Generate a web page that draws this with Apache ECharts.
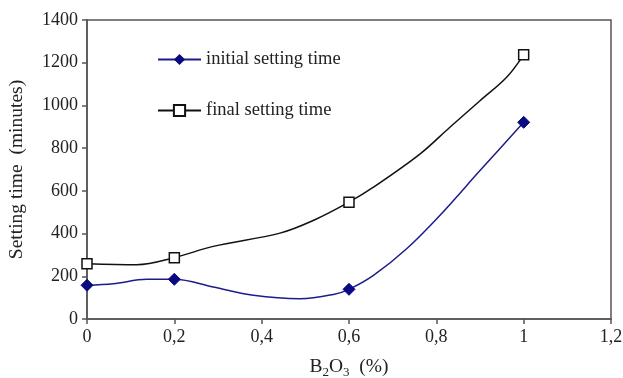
<!DOCTYPE html>
<html>
<head>
<meta charset="utf-8">
<script src="https://cdn.jsdelivr.net/npm/echarts@6/dist/echarts.min.js"></script>
<style>
  html, body { margin: 0; padding: 0; background: #fff; }
  #chart { width: 623px; height: 378px; }
</style>
</head>
<body>
<div id="chart"></div>
<script>
// Measured points (B2O3 %, minutes)
const doseMeasured = [0, 0.2, 0.6, 1];
const initialMeasured = [158, 186, 139, 921];
const finalMeasured = [259, 287, 547, 1237];

// Traced points along the drawn curves between measurements
const initialCurveX = [0, 0.06, 0.137, 0.2, 0.289, 0.381, 0.488, 0.564, 0.6, 0.656, 0.732, 0.808, 0.9, 1];
const initialCurveY = [158, 165, 186, 186, 150, 111, 95, 115, 139, 204, 329, 485, 695, 921];
const finalCurveX = [0, 0.114, 0.2, 0.289, 0.442, 0.518, 0.6, 0.656, 0.763, 0.831, 0.9, 0.961, 1];
const finalCurveY = [259, 254, 287, 340, 402, 461, 547, 617, 773, 898, 1022, 1132, 1237];

const xTicks = { min: 0, max: 1.2, step: 0.2 };
const yTicks = { min: 0, max: 1400, step: 200 };

function buildData(cx, cy) {
  return cx.map((x, i) => {
    const isMeasured = doseMeasured.some(d => Math.abs(d - x) < 1e-9);
    return isMeasured ? { value: [x, cy[i]] } : { value: [x, cy[i]], symbol: 'none' };
  });
}

const font = '"Liberation Serif", "DejaVu Serif", serif';
const axisColor = '#555';
const textColor = '#222';

const chart = echarts.init(document.getElementById('chart'));
chart.setOption({
  animation: false,
  textStyle: { fontFamily: font },
  grid: {
    left: 87, right: 12, top: 20, bottom: 59,
    containLabel: false,
    outerBoundsMode: 'none',
    show: true, borderColor: axisColor, borderWidth: 1.5, backgroundColor: '#fff'
  },
  legend: {
    orient: 'vertical',
    left: 152, top: 45,
    itemWidth: 43, itemHeight: 14,
    itemGap: 32,
    textStyle: { fontFamily: font, fontSize: 18.5, color: textColor },
    data: ['initial setting time', 'final setting time']
  },
  xAxis: {
    type: 'value',
    min: xTicks.min, max: xTicks.max, interval: xTicks.step,
    name: 'B{sub|2}O{sub|3}  (%)',
    nameLocation: 'middle',
    nameGap: 35,
    nameTextStyle: {
      fontFamily: font, fontSize: 19.5, color: textColor,
      rich: { sub: { fontFamily: font, fontSize: 13, verticalAlign: 'bottom', padding: [12, 0, 0, 0], color: textColor } }
    },
    axisLine: { lineStyle: { color: axisColor, width: 1.5 } },
    axisTick: { show: true, length: 5, lineStyle: { color: axisColor, width: 1.5 } },
    splitLine: { show: false },
    axisLabel: {
      fontFamily: font, fontSize: 18, color: textColor, margin: 9,
      formatter: v => String(Math.round(v * 10) / 10).replace('.', ',')
    }
  },
  yAxis: {
    type: 'value',
    min: yTicks.min, max: yTicks.max, interval: yTicks.step,
    name: 'Setting time  (minutes)',
    nameLocation: 'middle',
    nameGap: 60,
    nameTextStyle: { fontFamily: font, fontSize: 19.5, color: textColor },
    axisLine: { show: true, lineStyle: { color: axisColor, width: 1.5 } },
    axisTick: { show: true, length: 5, lineStyle: { color: axisColor, width: 1.5 } },
    splitLine: { show: false },
    axisLabel: {
      fontFamily: font, fontSize: 18, color: textColor, margin: 9,
      formatter: v => String(v)
    }
  },
  series: [
    {
      name: 'initial setting time',
      type: 'line',
      smooth: 0.35,
      data: buildData(initialCurveX, initialCurveY),
      symbol: 'diamond',
      symbolSize: 12,
      showAllSymbol: true,
      lineStyle: { color: '#1c1c8a', width: 1.5 },
      itemStyle: { color: '#0a0a80', borderColor: '#0a0a80' }
    },
    {
      name: 'final setting time',
      type: 'line',
      smooth: 0.35,
      data: buildData(finalCurveX, finalCurveY),
      symbol: 'rect',
      symbolSize: 10,
      showAllSymbol: true,
      lineStyle: { color: '#111', width: 1.5 },
      itemStyle: { color: '#fff', borderColor: '#111', borderWidth: 1.5 }
    }
  ]
});
</script>
</body>
</html>
